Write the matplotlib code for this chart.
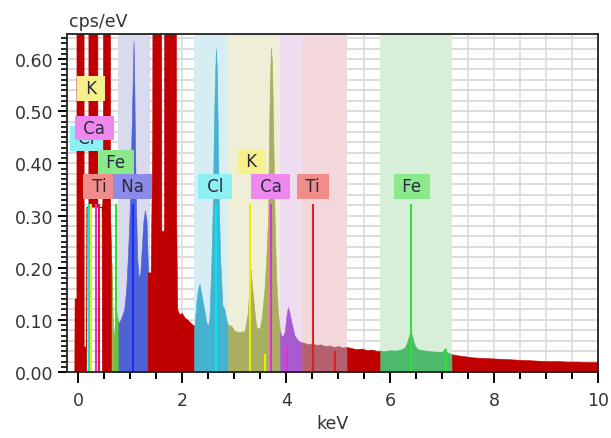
import numpy as np
import matplotlib
matplotlib.use("Agg")
import matplotlib.pyplot as plt
from matplotlib.ticker import MultipleLocator, FormatStrFormatter


# spectrum (peaks above 0.65 are clipped by the axis)
energy_kev = [
    -0.07, -0.065, -0.03, -0.025, 0.105, 0.11, 0.16, 0.165, 0.20, 0.205, 0.37, 0.375,
    0.455, 0.46, 0.48, 0.49, 0.61, 0.62, 0.64,
    0.66, 0.68, 0.70, 0.72, 0.74, 0.77,
    0.80, 0.84, 0.88, 0.92, 0.95, 0.98, 1.00, 1.02, 1.04, 1.06, 1.075, 1.09, 1.11,
    1.13, 1.16, 1.19, 1.22, 1.25, 1.28, 1.31, 1.34,
    1.40, 1.43, 1.45, 1.59, 1.605, 1.655, 1.67, 1.87, 1.89, 1.91, 1.95, 2.00, 2.05,
    2.10, 2.15, 2.20, 2.23,
    2.235, 2.27, 2.30, 2.33, 2.36, 2.395, 2.43, 2.46, 2.49, 2.52, 2.556, 2.588, 2.607,
    2.627, 2.646, 2.665, 2.684, 2.704, 2.73, 2.77, 2.81, 2.846, 2.88,
    2.94, 3.00, 3.07, 3.13, 3.20, 3.26, 3.29, 3.31, 3.34, 3.39, 3.42, 3.45, 3.49,
    3.52, 3.55, 3.58, 3.61, 3.63, 3.65, 3.667, 3.686, 3.706, 3.725, 3.744, 3.763,
    3.783, 3.81, 3.84, 3.88,
    3.91, 3.94, 3.97, 4.00, 4.03, 4.06, 4.10, 4.16, 4.23, 4.30,
    4.35, 4.42, 4.50, 4.58, 4.66, 4.75, 4.84, 4.92, 5.00, 5.08, 5.17,
    5.25, 5.35, 5.45, 5.55, 5.65, 5.75, 5.81,
    5.90, 6.00, 6.10, 6.20, 6.28, 6.33, 6.37, 6.40, 6.43, 6.47, 6.52, 6.62, 6.75,
    6.90, 7.00, 7.06, 7.09, 7.19,
    7.30, 7.45, 7.60, 7.80, 8.00, 8.20, 8.40, 8.60, 8.80, 9.00, 9.20, 9.40, 9.60,
    9.80, 10.0,
]
cps = [
    0.0, 0.14, 0.14, 2.0, 2.0, 0.048, 0.048, 0.0, 0.0, 2.0, 2.0, 0.0,
    0.0, 0.30, 0.36, 2.0, 2.0, 0.30, 0.21,
    0.10, 0.06, 0.09, 0.12, 0.11, 0.095,
    0.098, 0.108, 0.12, 0.16, 0.22, 0.29, 0.36, 0.45, 0.54, 0.635, 0.55, 0.42, 0.31,
    0.22, 0.18, 0.19, 0.24, 0.29, 0.31, 0.29, 0.19,
    0.19, 0.45, 2.0, 2.0, 0.27, 0.27, 2.0, 2.0, 0.30, 0.12, 0.11, 0.112, 0.104,
    0.10, 0.095, 0.09, 0.089,
    0.089, 0.134, 0.159, 0.169, 0.153, 0.134, 0.115, 0.096, 0.089, 0.10, 0.204, 0.33, 0.47,
    0.56, 0.62, 0.58, 0.445, 0.31, 0.215, 0.128, 0.12, 0.10, 0.09,
    0.089, 0.079, 0.077, 0.077, 0.079, 0.115, 0.165, 0.20, 0.165, 0.115, 0.089, 0.083, 0.085,
    0.10, 0.127, 0.159, 0.21, 0.25, 0.30, 0.446, 0.561, 0.622, 0.593, 0.497, 0.37,
    0.261, 0.172, 0.115, 0.078,
    0.068, 0.07, 0.077, 0.105, 0.124, 0.115, 0.095, 0.07, 0.06, 0.057,
    0.056, 0.053, 0.055, 0.052, 0.053, 0.05, 0.051, 0.048, 0.05, 0.047, 0.048,
    0.046, 0.044, 0.045, 0.042, 0.043, 0.040, 0.041,
    0.040, 0.042, 0.041, 0.043, 0.047, 0.058, 0.072, 0.078, 0.066, 0.052, 0.044, 0.042, 0.04,
    0.039, 0.039, 0.046, 0.038, 0.034,
    0.032, 0.030, 0.028, 0.027, 0.026, 0.025, 0.024, 0.023, 0.022, 0.021, 0.021, 0.020, 0.020,
    0.019, 0.019,
]

# colour of the spectrum fill per energy window
region_lo = [-0.07, 0.64, 0.77, 1.34, 2.23, 2.88, 3.88, 4.30, 5.17, 5.81, 7.19]
region_hi = [0.64, 0.77, 1.34, 2.23, 2.88, 3.88, 4.30, 5.17, 5.81, 7.19, 10.0]
region_colors = ["#c00000", "#9aab45", "#4d62d4", "#c00000", "#45b2d0", "#aaae60",
                 "#aa5ad0", "#b5606e", "#c00000", "#4db96b", "#c00000"]

# window where the low-energy fill is blanked out below the marker tops
hidden_kev = (0.165, 0.455)
hidden_floor = 0.316

# light background bands of the identified elements
band_lo = [0.77, 2.22, 2.88, 3.88, 4.30, 5.81]
band_hi = [1.37, 2.88, 3.88, 4.30, 5.17, 7.19]
band_colors = ["#dadaef", "#d6eef3", "#efefd7", "#eeddf0", "#f2d8da", "#d7efd9"]

# element marker lines
line_elem = ["Cl", "K", "Ca", "Ti", "Fe", "Na", "Cl", "K", "Ca", "Ti", "Fe",
             "K", "Ca", "Ti", "Fe"]
line_kev = [0.21, 0.25, 0.33, 0.395, 0.72, 1.05, 2.64, 3.31, 3.70, 4.51, 6.40,
            3.60, 4.01, 4.93, 7.07]
line_top = [0.322] * 11 + [0.035, 0.05, 0.04, 0.045]

# element labels (drawn in this order, later ones on top)
label_elem = ["Cl", "Ca", "K", "Fe", "Ti", "Na", "Cl", "K", "Ca", "Ti", "Fe"]
label_kev = [0.16, 0.31, 0.25, 0.72, 0.395, 1.04, 2.63, 3.33, 3.70, 4.51, 6.42]
label_cps = [0.448, 0.468, 0.544, 0.402, 0.356, 0.356, 0.356, 0.404, 0.356, 0.356, 0.356]

box_colors = {"K": "#f6f08c", "Ca": "#ee88ee", "Cl": "#8ef0f2",
              "Fe": "#8ae98a", "Ti": "#f08c8a", "Na": "#8a8ce8"}
marker_colors = {"K": "#eeee00", "Ca": "#e030d0", "Cl": "#00e8f0",
                 "Fe": "#30e030", "Ti": "#e02020", "Na": "#1a2cff"}


def main():
    plt.rcParams["font.family"] = "DejaVu Sans"
    fig = plt.figure(figsize=(6.11, 4.39), dpi=100)
    ax = fig.add_axes([0.1097, 0.1503, 0.8690, 0.7700])

    for v in np.arange(0.0, 10.01, 0.5):
        ax.axvline(v, color="#dcdcdc", lw=1.2, zorder=0)
    for h in np.arange(0.02, 0.65, 0.02):
        ax.axhline(h, color="#dcdcdc", lw=1.4, zorder=0)

    for lo, hi, c in zip(band_lo, band_hi, band_colors):
        ax.axvspan(lo, hi, color=c, lw=0, zorder=1)

    e = np.array(energy_kev)
    y = np.array(cps)
    floor = np.where((e >= hidden_kev[0]) & (e <= hidden_kev[1]), hidden_floor, 0.0)
    top = np.maximum(y, floor)
    for lo, hi, c in zip(region_lo, region_hi, region_colors):
        m = (e >= lo - 1e-9) & (e <= hi + 1e-9)
        ax.fill_between(e[m], floor[m], top[m], color=c, lw=0.4, ec=c, zorder=2)

    for name, x, h in zip(line_elem, line_kev, line_top):
        ax.plot([x, x], [0, h], color=marker_colors[name], lw=1.5, zorder=3,
                solid_capstyle="butt")

    for i, (name, x, yv) in enumerate(zip(label_elem, label_kev, label_cps)):
        ax.text(x, yv, f" {name} ", ha="center", va="center", fontsize=12,
                color="#2a2a3c", zorder=4 + i * 0.1,
                bbox=dict(boxstyle="square,pad=0.2", fc=box_colors[name], ec="none"))

    ax.set_xlim(-0.22, 10.0)
    ax.set_ylim(0, 0.648)
    ax.xaxis.set_major_locator(MultipleLocator(2))
    ax.xaxis.set_minor_locator(MultipleLocator(0.5))
    ax.yaxis.set_major_locator(MultipleLocator(0.1))
    ax.yaxis.set_minor_locator(MultipleLocator(0.01))
    ax.yaxis.set_major_formatter(FormatStrFormatter("%.2f"))
    ax.tick_params(axis="x", which="major", length=8, width=1.4, pad=6,
                   labelsize=12.5, labelcolor="#333333")
    ax.tick_params(axis="x", which="minor", length=5, width=1.4)
    ax.tick_params(axis="y", which="major", length=6.5, width=1.4, pad=3.5,
                   labelsize=12.5, labelcolor="#333333")
    ax.tick_params(axis="y", which="minor", length=4, width=1.2)
    for s in ax.spines.values():
        s.set_linewidth(1.3)
        s.set_color("#222222")
        s.set_zorder(5)

    ax.set_xlabel("keV", fontsize=12.5, color="#333333", labelpad=3)
    ax.text(0.004, 1.012, "cps/eV", transform=ax.transAxes, ha="left", va="bottom",
            fontsize=12.5, color="#333333")

    fig.savefig("out.png", dpi=100)
    plt.close(fig)


if __name__ == "__main__":
    main()
